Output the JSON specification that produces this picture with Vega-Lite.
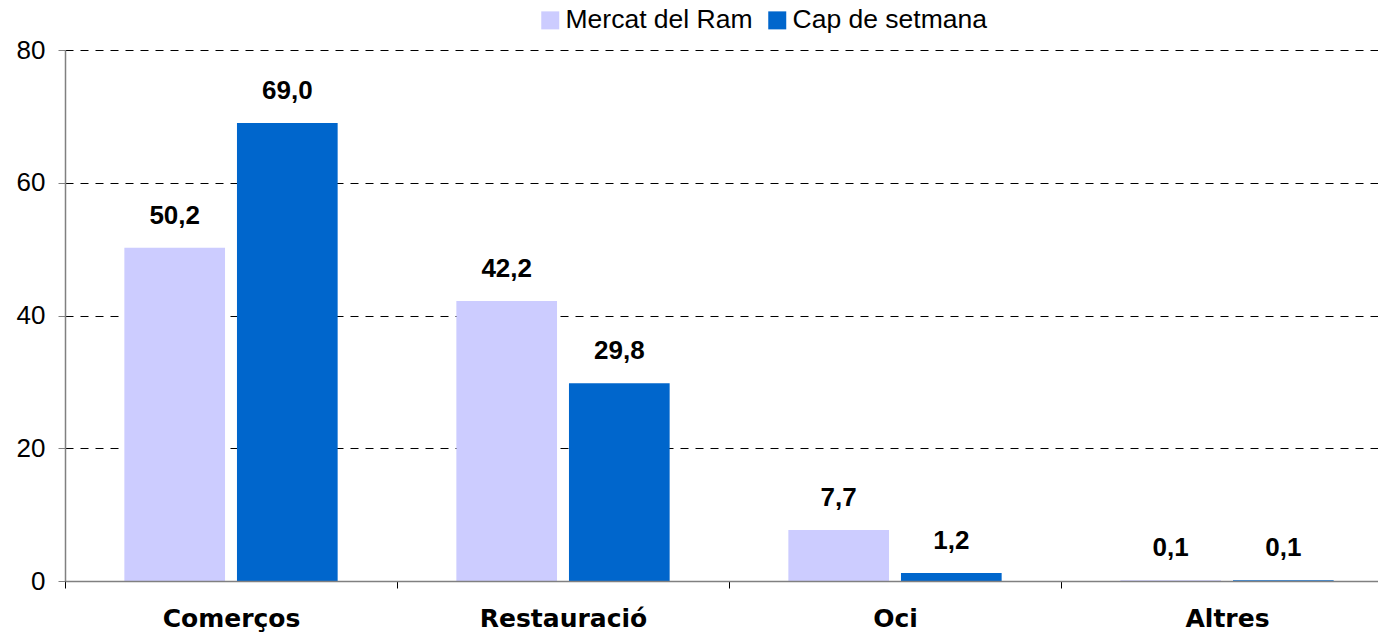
{
  "$schema": "https://vega.github.io/schema/vega-lite/v6.json",
  "width": 1313,
  "height": 531,
  "autosize": {"type": "none"},
  "padding": {"left": 65, "top": 50, "right": 0, "bottom": 56},
  "background": "white",
  "config": {
    "view": {"stroke": null},
    "locale": {"number": {"decimal": ",", "thousands": ".", "grouping": [3], "currency": ["", " €"]}},
    "font": "Liberation Sans"
  },
  "data": {
    "values": [
      {"categoria": "Comerços", "serie": "Mercat del Ram", "valor": 50.2},
      {"categoria": "Comerços", "serie": "Cap de setmana", "valor": 69.0},
      {"categoria": "Restauració", "serie": "Mercat del Ram", "valor": 42.2},
      {"categoria": "Restauració", "serie": "Cap de setmana", "valor": 29.8},
      {"categoria": "Oci", "serie": "Mercat del Ram", "valor": 7.7},
      {"categoria": "Oci", "serie": "Cap de setmana", "valor": 1.2},
      {"categoria": "Altres", "serie": "Mercat del Ram", "valor": 0.1},
      {"categoria": "Altres", "serie": "Cap de setmana", "valor": 0.1}
    ]
  },
  "encoding": {
    "x": {
      "field": "categoria",
      "type": "nominal",
      "sort": ["Comerços", "Restauració", "Oci", "Altres"],
      "scale": {"paddingInner": 0, "paddingOuter": 0, "range": [0, 1328]},
      "axis": {
        "title": null,
        "labelAngle": 0,
        "labelFont": "DejaVu Sans",
        "labelFontSize": 25,
        "labelFontWeight": "bold",
        "labelColor": "black",
        "labelPadding": 18,
        "tickBand": "extent",
        "tickSize": 7,
        "tickColor": "black",
        "domainColor": "#808080",
        "domainWidth": 1.5,
        "zindex": 1
      }
    },
    "xOffset": {
      "field": "serie",
      "type": "nominal",
      "sort": ["Mercat del Ram", "Cap de setmana"],
      "scale": {"paddingInner": 0.106, "paddingOuter": 0.527}
    },
    "y": {
      "field": "valor",
      "type": "quantitative",
      "scale": {"domain": [0, 80], "nice": false},
      "axis": {
        "title": null,
        "values": [0, 20, 40, 60, 80],
        "labelFont": "Liberation Sans",
        "labelFontSize": 26,
        "labelColor": "black",
        "labelPadding": 13,
        "tickSize": 7,
        "tickColor": "#808080",
        "domainColor": "#808080",
        "domainWidth": 1.5,
        "grid": true,
        "gridColor": "black",
        "gridDash": [8, 7],
        "gridWidth": 1
      }
    }
  },
  "layer": [
    {
      "mark": {"type": "bar"},
      "encoding": {
        "color": {
          "field": "serie",
          "type": "nominal",
          "sort": ["Mercat del Ram", "Cap de setmana"],
          "scale": {"domain": ["Mercat del Ram", "Cap de setmana"], "range": ["#CCCCFF", "#0066CC"]},
          "legend": {
            "title": null,
            "orient": "none",
            "legendX": 472,
            "legendY": -43,
            "direction": "horizontal",
            "symbolType": "square",
            "symbolSize": 324,
            "symbolStrokeWidth": 0,
            "symbolOpacity": 1,
            "labelFont": "Liberation Sans",
            "labelFontSize": 26.5,
            "labelColor": "black",
            "labelLimit": 0,
            "labelOffset": 2,
            "columnPadding": 11,
            "padding": 0
          }
        }
      }
    },
    {
      "mark": {"type": "text", "font": "Liberation Sans", "fontSize": 26, "fontWeight": "bold", "color": "black", "baseline": "alphabetic", "dy": -24},
      "encoding": {
        "text": {"field": "valor", "type": "quantitative", "format": ".1f"}
      }
    }
  ]
}
